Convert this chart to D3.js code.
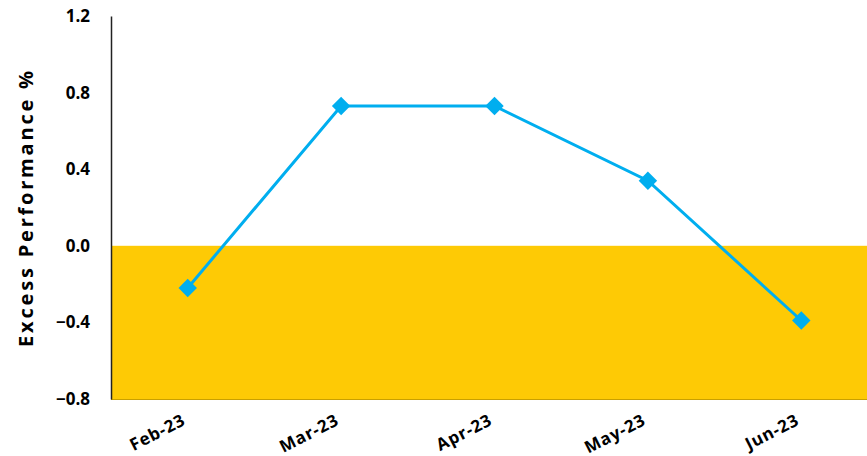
<!DOCTYPE html>
<html>
<head>
<meta charset="utf-8">
<script src="https://cdn.jsdelivr.net/npm/d3@7"></script>
<style>
  body { margin: 0; background: #fff; }
  text { font-family: "Open Sans", Lato, sans-serif; font-weight: 700; fill: #000; }
</style>
</head>
<body>
<div id="chart-area"></div>
<script>
// data
var months = ["Feb-23", "Mar-23", "Apr-23", "May-23", "Jun-23"]
var excess = [-0.22, 0.73, 0.73, 0.34, -0.39]
var yTicks = [-0.8, -0.4, 0.0, 0.4, 0.8, 1.2]

var W = 867, H = 456
var margin = { left: 111, top: 16, bottom: 57 }
var height = H - margin.top - margin.bottom

var svg = d3.select("#chart-area").append("svg")
  .attr("width", W)
  .attr("height", H)

var g = svg.append("g")
  .attr("transform", "translate(" + margin.left + "," + margin.top + ")")

var x = d3.scaleBand()
  .domain(months)
  .range([0, 767])

var y = d3.scaleLinear()
  .domain([-0.8, 1.2])
  .range([height, 0])

// negative zone shading
g.append("rect")
  .attr("x", 0)
  .attr("y", y(0))
  .attr("width", W - margin.left)
  .attr("height", y(-0.8) - y(0))
  .attr("fill", "#FECA05")

g.append("line")
  .attr("x1", 0).attr("x2", W - margin.left)
  .attr("y1", y(-0.8) + 0.5).attr("y2", y(-0.8) + 0.5)
  .attr("stroke", "#C9A000")
  .attr("stroke-width", 1)

// y axis
var yAxisCall = d3.axisLeft(y)
  .tickValues(yTicks)
  .tickSize(0)
  .tickPadding(21)
  .tickFormat(d3.format(".1f"))

var yAxisGroup = g.append("g").call(yAxisCall)
yAxisGroup.select(".domain").attr("stroke", "#222").attr("stroke-width", 1.5)
yAxisGroup.selectAll("text")
  .attr("font-size", "17px")
  .attr("font-family", "'Open Sans', sans-serif")
  .attr("font-weight", 700)

// x labels
var xAxisCall = d3.axisBottom(x).tickSize(0)
var xAxisGroup = g.append("g")
  .attr("transform", "translate(0," + height + ")")
  .call(xAxisCall)
xAxisGroup.select(".domain").remove()
xAxisGroup.selectAll("text")
  .attr("font-size", "17px")
  .attr("font-family", "'Open Sans', sans-serif")
  .attr("font-weight", 700)
  .attr("letter-spacing", "0.8px")
  .attr("text-anchor", "end")
  .attr("dy", 0)
  .attr("y", 0)
  .attr("x", 0)
  .attr("transform", "translate(-1,25) rotate(-27)")

// axis title
g.append("text")
  .attr("transform", "rotate(-90)")
  .attr("x", -(y(0.2)))
  .attr("y", -78)
  .attr("text-anchor", "middle")
  .attr("font-size", "20px")
  .attr("letter-spacing", "2.8px")
  .text("Excess Performance %")

// line
var line = d3.line()
  .x(function(d, i) { return x(months[i]) + x.bandwidth() / 2 })
  .y(function(d) { return y(d) })

g.append("path")
  .datum(excess)
  .attr("d", line)
  .attr("fill", "none")
  .attr("stroke", "#00AEEF")
  .attr("stroke-width", 3)

g.selectAll(".marker")
  .data(excess)
  .enter().append("path")
    .attr("class", "marker")
    .attr("d", d3.symbol().type(d3.symbolSquare).size(170))
    .attr("transform", function(d, i) {
      return "translate(" + (x(months[i]) + x.bandwidth() / 2) + "," + y(d) + ") rotate(45)"
    })
    .attr("fill", "#00AEEF")
</script>
</body>
</html>
